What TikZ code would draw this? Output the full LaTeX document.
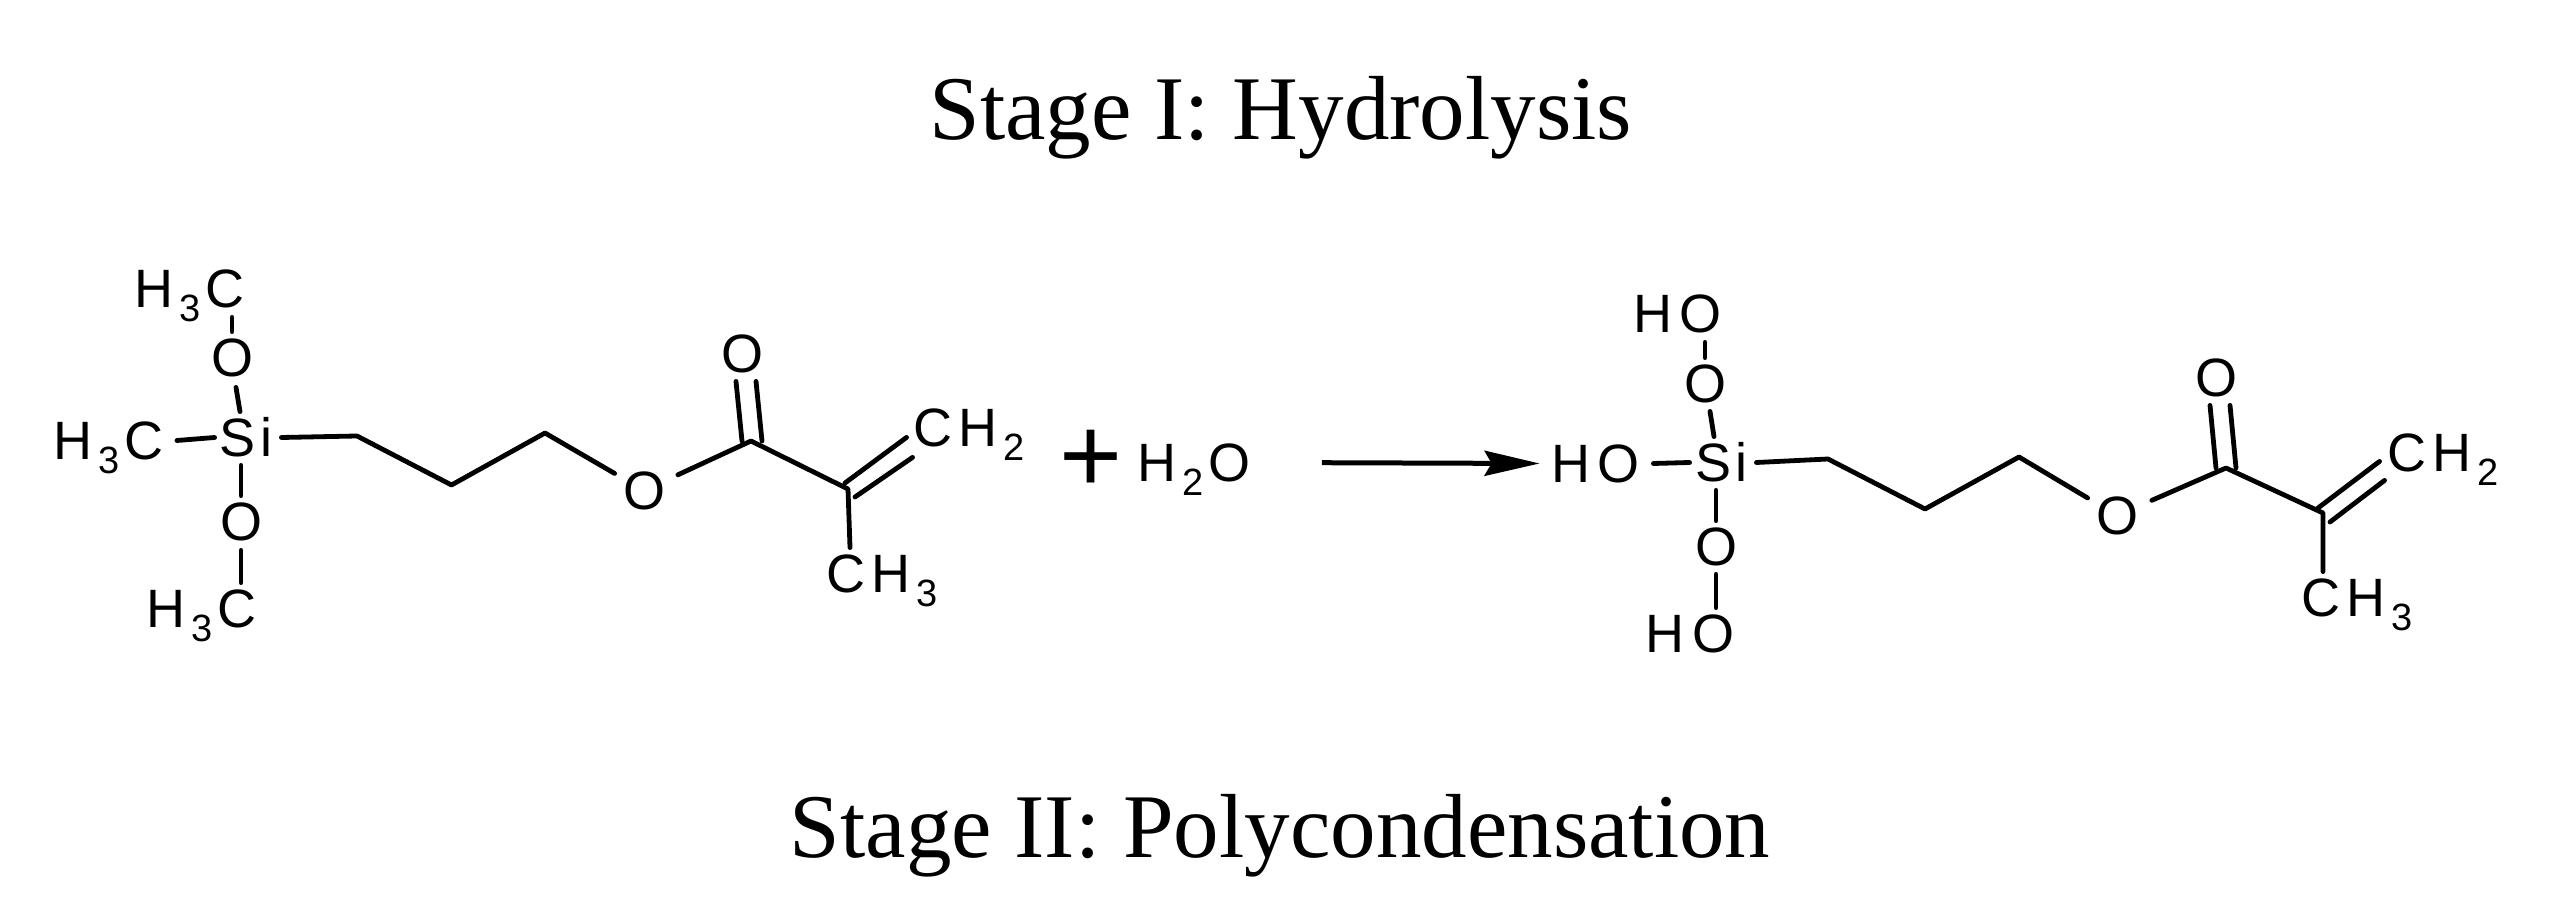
\documentclass[tikz,border=0pt]{standalone}
\usepackage{fontspec}
\setmainfont{Liberation Serif}
\newfontfamily\chemfont{Liberation Sans}
\usetikzlibrary{arrows.meta}
\newcommand{\Low}[1]{\kern3pt\raisebox{-7pt}{\fontsize{19}{19}\selectfont #1}\kern2.5pt}
\tikzstyle{Atom} = [
font=\chemfont\fontsize{27}{27}\selectfont,
anchor=base, text height=19.5pt, text depth=0pt,
inner xsep=4pt, inner ysep=3pt]
\tikzstyle{Title} = [
font=\fontsize{45.5}{45.5}\selectfont, anchor=base, inner sep=0pt]
\tikzstyle{Bond} = [
line width=2.4pt, line cap=round, line join=round]
\tikzstyle{Arrow} = [
line width=2.5pt,
-{Stealth[length=27.5pt, width=12.5pt, inset=3.5pt]},
shorten <=31.5pt, shorten >=1.5pt]

\begin{document}
\begin{tikzpicture}[x=0.5pt, y=-0.5pt]
    \useasboundingbox (0,0) rectangle (2554,913);

    \node [Title] (title1) at (1281,140) {Stage I: Hydrolysis};
    \node [Title] (title2) at (1280,857) {Stage II: Polycondensation};

    % silane
    \node [Atom] (tc) at (189.5,308) {H\Low{3}C};
    \node [Atom] (to) at (232,377) {O};
    \node [Atom] (si) at (246.5,457) {S\kern2.5pt i};
    \node [Atom] (mc) at (108.5,460) {H\Low{3}C};
    \node [Atom] (lo) at (241,541) {O};
    \node [Atom] (lc) at (201.5,628) {H\Low{3}C};
    \coordinate (c1) at (357,436);
    \coordinate (c2) at (451.5,485);
    \coordinate (c3) at (545,433);
    \node [Atom] (eo) at (644,510) {O};
    \coordinate (cc) at (751,441);
    \node [Atom] (co) at (742,373) {O};
    \coordinate (cv) at (848,489);
    \node [Atom] (ch) at (972,447) {C\kern3pt H\Low{2}};
    \node [Atom] (me) at (885,593) {C\kern3pt H\Low{3}};

    \draw[Bond] ([shift={(21.25pt,-1.5pt)}]tc.south) -- (to.north);
    \draw[Bond] ([shift={(2pt,-2pt)}]to.south) -- ([xshift=-3.25pt]si.north);
    \draw[Bond] ([xshift=2.5pt]mc.east) -- ([xshift=1.5pt]si.west);
    \draw[Bond] ([shift={(-2.75pt,-1pt)}]si.south) -- (lo.north);
    \draw[Bond] ([yshift=-1.5pt]lo.south) -- ([xshift=19.75pt]lc.north);
    \draw[Bond] (si.east) -- (c1) -- (c2) -- (c3) -- (eo);
    \draw[Bond, shorten <=2.5pt] (eo) -- (cc) -- (cv) -- ([xshift=-17.5pt]me.north);
    \draw[Bond] ([shift={(-3pt,-1pt)}]co.south) -- ([xshift=-4.5pt]cc);
    \draw[Bond] ([shift={(7pt,-1pt)}]co.south) -- ([xshift=5.5pt]cc);
    \draw[Bond] ([shift={(-1.5pt,3pt)}]cv) -- ([shift={(0.5pt,8pt)}]ch.south west);
    \draw[Bond] ([shift={(3.5pt,-4pt)}]cv) -- ([shift={(3.5pt,-2pt)}]ch.south west);

    \node [font=\chemfont\fontsize{54}{54}\selectfont, inner sep=0pt] (plus) at (1091.5,461) {+};
    \node [Atom] (water) at (1194,482) {H\Low{2}O};

    % silanol
    \node [Atom] (th) at (1677.5,333) {H\kern4pt O};
    \node [Atom] (to2) at (1705,403) {O};
    \node [Atom] (si2) at (1721.5,482) {S\kern2.5pt i};
    \node [Atom] (mh) at (1595.5,483) {H\kern4pt O};
    \node [Atom] (lo2) at (1716,566) {O};
    \node [Atom] (lh) at (1689.5,653) {H\kern4pt O};
    \coordinate (d1) at (1828,459);
    \coordinate (d2) at (1925,509);
    \coordinate (d3) at (2019,457);
    \node [Atom] (eo2) at (2117,535) {O};
    \coordinate (dc) at (2226,468);
    \node [Atom] (co2) at (2216,397) {O};
    \coordinate (dv) at (2323,513);
    \node [Atom] (ch2) at (2446,472) {C\kern3pt H\Low{2}};
    \node [Atom] (me2) at (2359.5,617) {C\kern3pt H\Low{3}};

    \draw[Bond] ([shift={(13.75pt,-1.5pt)}]th.south) -- (to2.north);
    \draw[Bond] ([shift={(2.5pt,-1pt)}]to2.south) -- ([xshift=-3.75pt]si2.north);
    \draw[Bond] ([xshift=2.5pt]mh.east) -- ([xshift=1.5pt]si2.west);
    \draw[Bond] ([shift={(-2.75pt,-1pt)}]si2.south) -- (lo2.north);
    \draw[Bond] ([yshift=-1pt]lo2.south) -- ([xshift=13.25pt]lh.north);
    \draw[Bond] (si2.east) -- (d1) -- (d2) -- (d3) -- (eo2);
    \draw[Bond, shorten <=3pt] (eo2) -- (dc) -- (dv) -- ([xshift=-18.25pt]me2.north);
    \draw[Bond] ([shift={(-3pt,-1pt)}]co2.south) -- ([xshift=-5pt]dc);
    \draw[Bond] ([shift={(7pt,-1pt)}]co2.south) -- ([xshift=5pt]dc);
    \draw[Bond] ([shift={(-2.5pt,2.5pt)}]dv) -- ([shift={(0pt,8.5pt)}]ch2.south west);
    \draw[Bond] ([shift={(3.5pt,-4.5pt)}]dv) -- ([shift={(2.5pt,-1pt)}]ch2.south west);

    \draw[Arrow] (water.east) -- (mh.west);
\end{tikzpicture}
\end{document}
